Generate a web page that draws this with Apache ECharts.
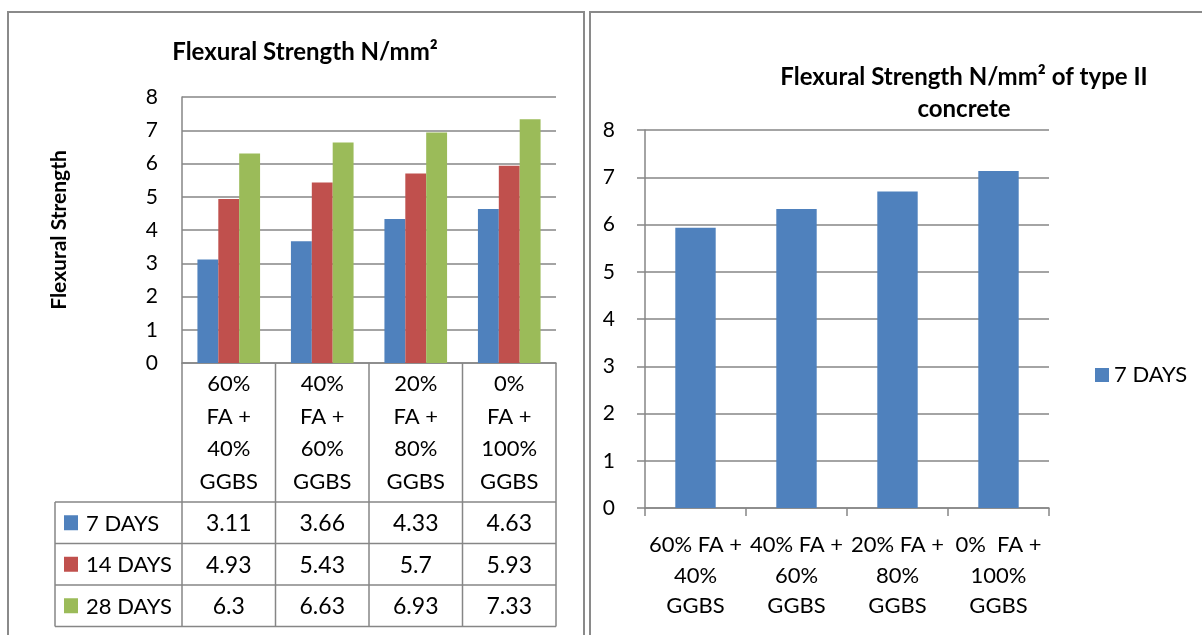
<!DOCTYPE html>
<html>
<head>
<meta charset="utf-8">
<script src="https://cdn.jsdelivr.net/npm/echarts@6/dist/echarts.min.js"></script>
<style>
  html, body { margin: 0; padding: 0; background: #fff; }
  #chart { width: 1202px; height: 635px; }
</style>
</head>
<body>
<div id="chart"></div>
<script>
// Mix designs (fly ash / GGBS replacement)
const categories = ['60% FA + 40% GGBS', '40% FA + 60% GGBS', '20% FA + 80% GGBS', '0% FA + 100% GGBS'];
const seriesNames = ['7 DAYS', '14 DAYS', '28 DAYS'];
const days7 = [3.11, 3.66, 4.33, 4.63];
const days14 = [4.93, 5.43, 5.7, 5.93];
const days28 = [6.3, 6.63, 6.93, 7.33];
// Type II concrete, 7 day strength
const typeIINames = ['7 DAYS'];
const typeII7 = [5.93, 6.33, 6.7, 7.13];
const yTicks = [0, 1, 2, 3, 4, 5, 6, 7, 8];

const colors = ['#4F81BD', '#C0504D', '#9BBB59'];
const FONT = 'Lato, "Open Sans", sans-serif';
const GRID_COLOR = '#868686';

// layout of the left panel (chart + data table)
const L = { left: 182, top: 97, width: 374, height: 266 };
const tableHeaderBottom = 502;
const rowH = 41.5;
const tableLeft = 55;
// layout of the right panel
const R = { left: 645, top: 130, width: 404, height: 378 };

const leftSeries = [days7, days14, days28];

const chart = echarts.init(document.getElementById('chart'), null, { renderer: 'canvas' });

// data table drawn under the left chart
const graphics = [];
const lineStyle = { stroke: GRID_COLOR, lineWidth: 1.5 };
const colW = L.width / categories.length;
const plotBottom = L.top + L.height;
const tableBottom = tableHeaderBottom + rowH * seriesNames.length;
for (let i = 0; i <= categories.length; i++) {
  const x = L.left + colW * i;
  graphics.push({ type: 'line', shape: { x1: x, y1: plotBottom, x2: x, y2: tableBottom }, style: lineStyle, silent: true });
}
graphics.push({ type: 'line', shape: { x1: tableLeft, y1: tableHeaderBottom, x2: tableLeft, y2: tableBottom }, style: lineStyle });
for (let r = 0; r <= seriesNames.length; r++) {
  const y = tableHeaderBottom + rowH * r;
  graphics.push({ type: 'line', shape: { x1: tableLeft, y1: y, x2: L.left + L.width, y2: y }, style: lineStyle });
}
seriesNames.forEach((name, r) => {
  const cy = tableHeaderBottom + rowH * r + rowH / 2;
  graphics.push({ type: 'rect', shape: { x: 64, y: cy - 7.5, width: 14, height: 15 }, style: { fill: colors[r] } });
  graphics.push({ type: 'text', x: 86, y: cy + 1, style: { text: name, font: '22px ' + FONT, fill: '#000', textVerticalAlign: 'middle', textAlign: 'left' } });
  leftSeries[r].forEach((v, c) => {
    graphics.push({ type: 'text', x: L.left + colW * (c + 0.5), y: cy + 1, style: { text: String(v), font: '23px ' + FONT, fill: '#000', textAlign: 'center', textVerticalAlign: 'middle' } });
  });
});
// panel frames
graphics.push({ type: 'rect', shape: { x: 8, y: 12, width: 576, height: 640 }, style: { fill: 'none', stroke: '#8a8a8a', lineWidth: 2 } });
graphics.push({ type: 'rect', shape: { x: 590, y: 12, width: 640, height: 640 }, style: { fill: 'none', stroke: '#8a8a8a', lineWidth: 2 } });

const wrapLeft = v => v.replace(' FA + ', '\nFA +\n').replace(' GGBS', '\nGGBS');
const wrapRight = v => v.replace(/^0% FA/, '0%  FA').replace(' + ', ' +\n').replace(' GGBS', '\nGGBS');

const option = {
  animation: false,
  textStyle: { fontFamily: FONT },
  title: [
    { text: 'Flexural Strength N/mm²', left: 300, top: 35, textAlign: 'center',
      textStyle: { fontSize: 24, fontWeight: 'bold', color: '#000', fontFamily: FONT } },
    { text: 'Flexural Strength N/mm² of type II\nconcrete', left: 959, top: 56, textAlign: 'center',
      textStyle: { fontSize: 24, fontWeight: 'bold', color: '#000', fontFamily: FONT, lineHeight: 32, align: 'center' } }
  ],
  legend: {
    data: typeIINames, left: 1090, top: 359, icon: 'rect', itemWidth: 14, itemHeight: 14, itemGap: 6,
    textStyle: { fontSize: 22, color: '#000', fontFamily: FONT }, selectedMode: false
  },
  grid: [
    { left: L.left, top: L.top, width: L.width, height: L.height, containLabel: false },
    { left: R.left, top: R.top, width: R.width, height: R.height, containLabel: false }
  ],
  xAxis: [
    { type: 'category', gridIndex: 0, data: categories,
      axisLine: { show: true, lineStyle: { color: GRID_COLOR, width: 1.5 } },
      axisTick: { show: false },
      axisLabel: { interval: 0, formatter: wrapLeft, fontSize: 22, color: '#000', lineHeight: 32.5, margin: 5, fontFamily: FONT } },
    { type: 'category', gridIndex: 1, data: categories,
      axisLine: { show: true, lineStyle: { color: GRID_COLOR, width: 1.5 } },
      axisTick: { show: true, length: 8, lineStyle: { color: GRID_COLOR, width: 1.5 } },
      axisLabel: { interval: 0, formatter: wrapRight, fontSize: 22, color: '#000', lineHeight: 30.5, margin: 22, hideOverlap: false, fontFamily: FONT } }
  ],
  yAxis: [
    { type: 'value', gridIndex: 0, min: yTicks[0], max: yTicks[yTicks.length - 1], interval: 1,
      name: 'Flexural Strength', nameLocation: 'middle', nameGap: 112, nameRotate: 90,
      nameTextStyle: { fontSize: 21, fontWeight: 'bold', color: '#000', fontFamily: FONT },
      axisLine: { show: true, lineStyle: { color: GRID_COLOR, width: 1.5 } },
      axisTick: { show: false },
      splitLine: { lineStyle: { color: GRID_COLOR, width: 1.5 } },
      axisLabel: { fontSize: 21, color: '#000', margin: 24, fontFamily: FONT } },
    { type: 'value', gridIndex: 1, min: yTicks[0], max: yTicks[yTicks.length - 1], interval: 1,
      axisLine: { show: true, lineStyle: { color: GRID_COLOR, width: 1.5 } },
      axisTick: { show: true, length: 8, lineStyle: { color: GRID_COLOR, width: 1.5 } },
      splitLine: { lineStyle: { color: GRID_COLOR, width: 1.5 } },
      axisLabel: { fontSize: 21, color: '#000', margin: 30, fontFamily: FONT } }
  ],
  series: [
    ...seriesNames.map((name, i) => ({
      name, type: 'bar', xAxisIndex: 0, yAxisIndex: 0, data: leftSeries[i],
      barGap: '0%', barCategoryGap: '33%', itemStyle: { color: colors[i] }
    })),
    { name: typeIINames[0], type: 'bar', xAxisIndex: 1, yAxisIndex: 1, data: typeII7,
      barWidth: '40%', itemStyle: { color: colors[0] } }
  ],
  graphic: graphics
};
chart.setOption(option);
</script>
</body>
</html>
